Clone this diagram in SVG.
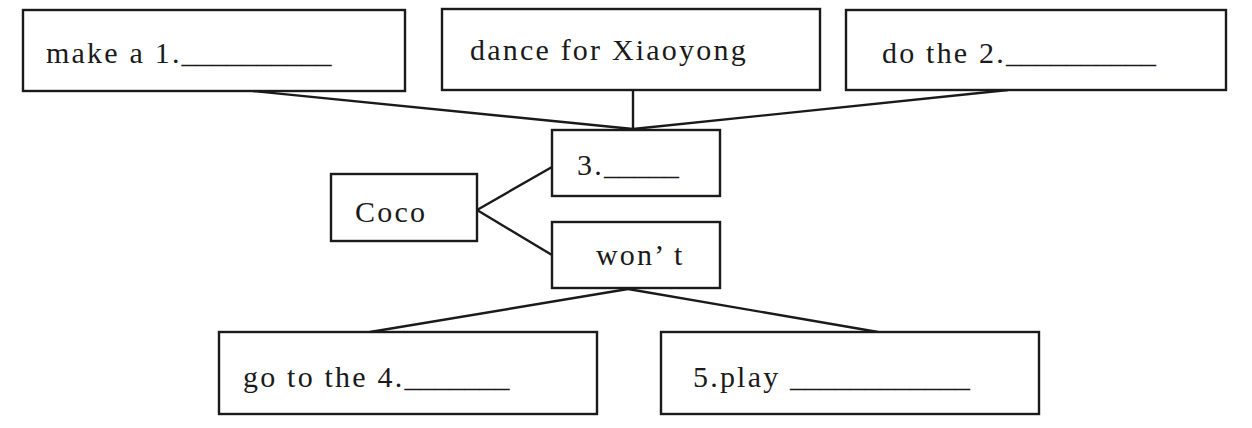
<svg xmlns="http://www.w3.org/2000/svg" width="1252" height="428" viewBox="0 0 1252 428">
<style>
.box{fill:#fff;stroke:#1a1a1a;stroke-width:2.4}
line{stroke:#1a1a1a;stroke-width:2.4}
text{font-family:"Liberation Serif","Times New Roman",serif;font-size:30px;fill:#1a1a1a;letter-spacing:2.2px}
.u{letter-spacing:0}
</style>
<rect width="1252" height="428" fill="#fff"/>
<g id="connectors">
<line x1="253" y1="91" x2="633" y2="129"/>
<line x1="1008" y1="90" x2="633" y2="129"/>
<line x1="633" y1="90" x2="633" y2="129"/>
<line x1="477" y1="210" x2="552" y2="167"/>
<line x1="477" y1="210" x2="552" y2="255"/>
<line x1="628" y1="289" x2="370" y2="332"/>
<line x1="628" y1="289" x2="878" y2="332"/>
</g>
<g id="n1"><rect class="box" x="23" y="10" width="382" height="81"/><text x="46" y="63">make a 1.<tspan class="u">__________</tspan></text></g>
<g id="n2"><rect class="box" x="442" y="9" width="378" height="81"/><text x="470" y="60">dance for Xiaoyong</text></g>
<g id="n3"><rect class="box" x="846" y="10" width="380" height="80"/><text x="882" y="63">do the 2.<tspan class="u">__________</tspan></text></g>
<g id="n4"><rect class="box" x="552" y="130" width="168" height="66"/><text x="577" y="175">3.<tspan class="u">_____</tspan></text></g>
<g id="n5"><rect class="box" x="331" y="174" width="146" height="67"/><text x="355" y="222">Coco</text></g>
<g id="n6"><rect class="box" x="552" y="222" width="168" height="66"/><text x="596" y="265">won’ t</text></g>
<g id="n7"><rect class="box" x="219" y="332" width="378" height="82"/><text x="243" y="387">go to the 4.<tspan class="u">_______</tspan></text></g>
<g id="n8"><rect class="box" x="661" y="332" width="378" height="82"/><text x="693" y="387">5.play <tspan class="u">____________</tspan></text></g>
</svg>
